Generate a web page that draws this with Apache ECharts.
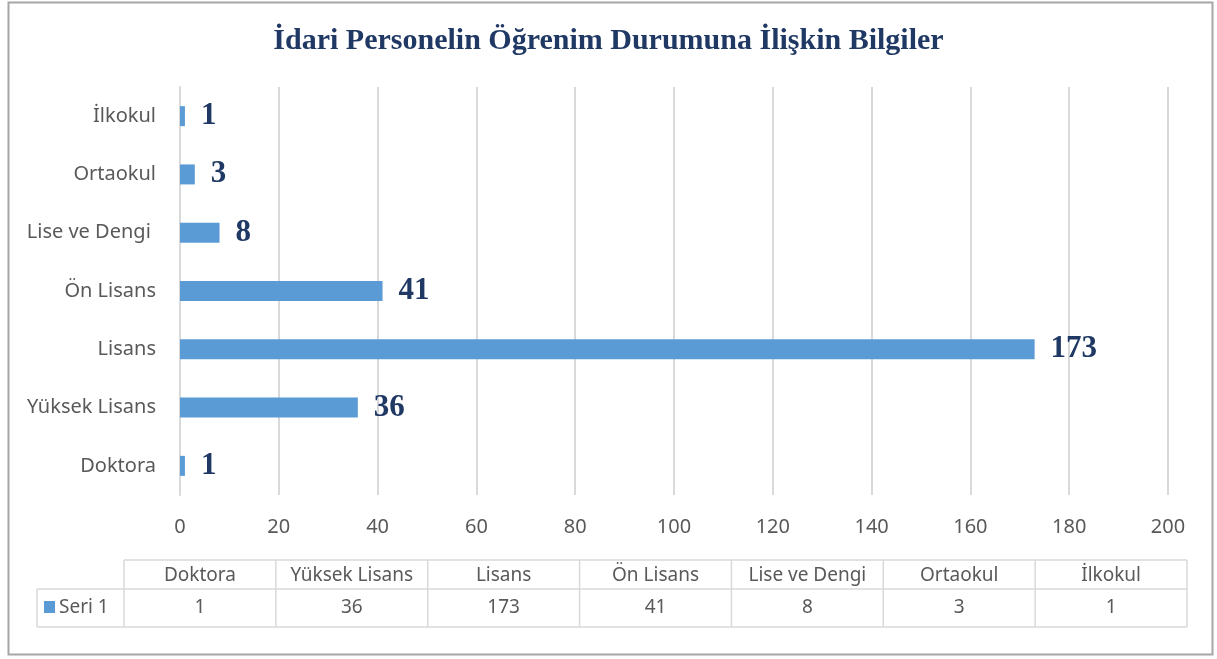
<!DOCTYPE html>
<html>
<head>
<meta charset="utf-8">
<script src="https://cdn.jsdelivr.net/npm/echarts@6/dist/echarts.min.js"></script>
<style>
  html, body { margin: 0; padding: 0; background: #fff; }
  #main { width: 1217px; height: 659px; }
</style>
</head>
<body>
<div id="main"></div>
<script>
// data
const categories = ['Doktora', 'Yüksek Lisans', 'Lisans', 'Ön Lisans', 'Lise ve Dengi ', 'Ortaokul', 'İlkokul'];
const values = [1, 36, 173, 41, 8, 3, 1];
const seriesName = 'Seri 1';
const xTicks = { min: 0, max: 200, interval: 20 };

const barColor = '#5B9BD5';
const navy = '#1F3864';
const gray = '#595959';
const gridGray = '#D9D9D9';
const sansFont = '"Noto Sans", sans-serif';
const serifFont = '"Liberation Serif", serif';

const myChart = echarts.init(document.getElementById('main'));

// data table under the chart
const tableLeft = 124, tableRight = 1187, legendLeft = 37;
const rowTop = 560, rowMid = 589, rowBottom = 627;
const colW = (tableRight - tableLeft) / categories.length;
const lineStyle = { stroke: gridGray, lineWidth: 1.5 };
const tableFont = '19px ' + sansFont;

var tableEls = [];
tableEls.push({ type: 'line', shape: { x1: tableLeft, y1: rowTop, x2: tableRight, y2: rowTop }, style: lineStyle });
tableEls.push({ type: 'line', shape: { x1: legendLeft, y1: rowMid, x2: tableRight, y2: rowMid }, style: lineStyle });
tableEls.push({ type: 'line', shape: { x1: legendLeft, y1: rowBottom, x2: tableRight, y2: rowBottom }, style: lineStyle });
tableEls.push({ type: 'line', shape: { x1: legendLeft, y1: rowMid, x2: legendLeft, y2: rowBottom }, style: lineStyle });
for (let i = 0; i <= categories.length; i++) {
  const x = tableLeft + i * colW;
  tableEls.push({ type: 'line', shape: { x1: x, y1: rowTop, x2: x, y2: rowBottom }, style: lineStyle });
}
categories.forEach(function (c, i) {
  const cx = tableLeft + (i + 0.5) * colW;
  tableEls.push({
    type: 'text', x: cx, y: (rowTop + rowMid) / 2 + 1,
    style: { text: c.trim(), font: tableFont, fill: gray, align: 'center', verticalAlign: 'middle' }
  });
  tableEls.push({
    type: 'text', x: cx, y: (rowMid + rowBottom) / 2,
    style: { text: String(values[i]), font: tableFont, fill: gray, align: 'center', verticalAlign: 'middle' }
  });
});
tableEls.push({ type: 'rect', shape: { x: 44, y: 601, width: 11, height: 12 }, style: { fill: barColor } });
tableEls.push({
  type: 'text', x: 59, y: (rowMid + rowBottom) / 2,
  style: { text: seriesName, font: tableFont, fill: gray, align: 'left', verticalAlign: 'middle' }
});

const option = {
  backgroundColor: '#fff',
  animation: false,
  title: {
    text: 'İdari Personelin Öğrenim Durumuna İlişkin Bilgiler',
    left: 'center',
    top: 21,
    textStyle: { fontFamily: serifFont, fontWeight: 'bold', fontSize: 30, color: navy }
  },
  grid: { left: 180, right: 49, top: 87, height: 408 },
  xAxis: {
    type: 'value',
    min: xTicks.min,
    max: xTicks.max,
    interval: xTicks.interval,
    axisLine: { show: false },
    axisTick: { show: false },
    axisLabel: { color: gray, fontFamily: sansFont, fontSize: 20, margin: 22 },
    splitLine: { lineStyle: { color: gridGray, width: 2 } }
  },
  yAxis: {
    type: 'category',
    data: categories,
    axisLine: { show: true, lineStyle: { color: gridGray, width: 2 } },
    axisTick: { show: false },
    axisLabel: { color: gray, fontFamily: sansFont, fontSize: 20, margin: 24 }
  },
  series: [{
    name: seriesName,
    type: 'bar',
    data: values,
    barWidth: 20,
    itemStyle: { color: barColor },
    label: {
      show: true,
      position: 'right',
      distance: 16,
      color: navy,
      fontFamily: serifFont,
      fontWeight: 'bold',
      fontSize: 31
    }
  }],
  graphic: [
    { type: 'rect', shape: { x: 8.5, y: 2.5, width: 1204, height: 652 }, style: { fill: 'none', stroke: '#A6A6A6', lineWidth: 2 }, z: 100 },
    { type: 'group', children: tableEls }
  ]
};

myChart.setOption(option);
</script>
</body>
</html>
